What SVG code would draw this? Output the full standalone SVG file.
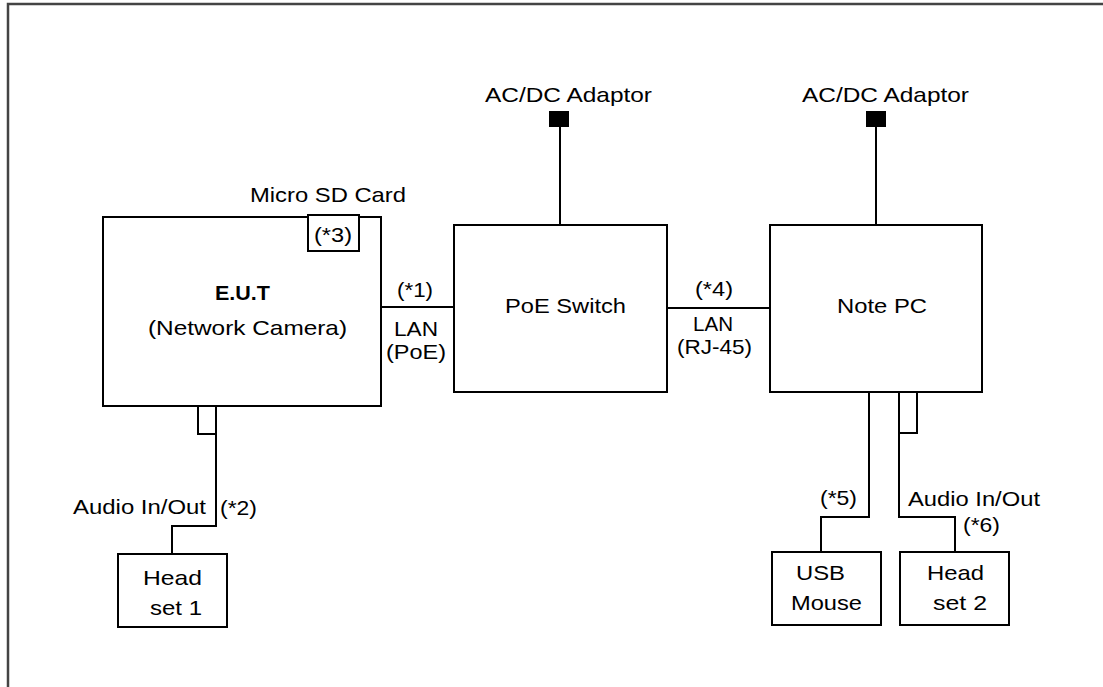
<svg xmlns="http://www.w3.org/2000/svg" width="1103" height="687" viewBox="0 0 1103 687">
<style>
.bx{fill:#fff;stroke:#000;stroke-width:2}
.ln{fill:none;stroke:#000;stroke-width:2}
.t{font-family:"Liberation Sans",Arial,sans-serif;font-size:21px;fill:#000}
.b{font-weight:bold}
</style>
<rect width="1103" height="687" fill="#fff"/>
<path d="M8,687 V4 H1103" fill="none" stroke="#444" stroke-width="2.5"/>
<g id="connectors">
<path class="ln" d="M381,307 H454"/>
<path class="ln" d="M667,308 H770"/>
<path class="ln" d="M560,127 V225"/>
<path class="ln" d="M876,127 V225"/>
<path class="ln" d="M216,434 V526 H172 V554"/>
<path class="ln" d="M869,392 V517 H821 V552"/>
<path class="ln" d="M899,433 V517 H955 V552"/>
</g>
<g id="adaptor1">
<rect x="549" y="111" width="20" height="16" fill="#000"/>
<text class="t" x="485" y="102" textLength="167" lengthAdjust="spacingAndGlyphs">AC/DC  Adaptor</text>
</g>
<g id="adaptor2">
<rect x="866" y="111" width="20" height="16" fill="#000"/>
<text class="t" x="802" y="102" textLength="167" lengthAdjust="spacingAndGlyphs">AC/DC  Adaptor</text>
</g>
<g id="eut">
<rect class="bx" x="103" y="217" width="278" height="189"/>
<rect class="bx" x="308" y="215" width="51" height="36"/>
<text class="t" x="314" y="242" textLength="38" lengthAdjust="spacingAndGlyphs">(*3)</text>
<text class="t" x="250" y="202" textLength="156" lengthAdjust="spacingAndGlyphs">Micro SD Card</text>
<text class="t b" x="215" y="300" textLength="55" lengthAdjust="spacingAndGlyphs">E.U.T</text>
<text class="t" x="148" y="335" textLength="199" lengthAdjust="spacingAndGlyphs">(Network Camera)</text>
<rect class="bx" x="198" y="406" width="18" height="28"/>
</g>
<g id="lan1-label">
<text class="t" x="397" y="297" textLength="36" lengthAdjust="spacingAndGlyphs">(*1)</text>
<text class="t" x="394" y="336" textLength="44" lengthAdjust="spacingAndGlyphs">LAN</text>
<text class="t" x="386" y="359" textLength="60" lengthAdjust="spacingAndGlyphs">(PoE)</text>
</g>
<g id="poe-switch">
<rect class="bx" x="454" y="225" width="213" height="167"/>
<text class="t" x="505" y="313" textLength="121" lengthAdjust="spacingAndGlyphs">PoE Switch</text>
</g>
<g id="lan2-label">
<text class="t" x="695" y="296" textLength="38" lengthAdjust="spacingAndGlyphs">(*4)</text>
<text class="t" x="693" y="331" textLength="40" lengthAdjust="spacingAndGlyphs">LAN</text>
<text class="t" x="677" y="354" textLength="75" lengthAdjust="spacingAndGlyphs">(RJ-45)</text>
</g>
<g id="note-pc">
<rect class="bx" x="770" y="225" width="212" height="167"/>
<text class="t" x="837" y="313" textLength="90" lengthAdjust="spacingAndGlyphs">Note PC</text>
<rect class="bx" x="899" y="392" width="18" height="41"/>
</g>
<g id="headset1">
<rect class="bx" x="118" y="554" width="109" height="73"/>
<text class="t" x="143" y="585" textLength="59" lengthAdjust="spacingAndGlyphs">Head</text>
<text class="t" x="150" y="615" textLength="52" lengthAdjust="spacingAndGlyphs">set 1</text>
</g>
<g id="audio1-label">
<text class="t" x="73" y="514" textLength="133" lengthAdjust="spacingAndGlyphs">Audio In/Out</text>
<text class="t" x="220" y="515" textLength="37" lengthAdjust="spacingAndGlyphs">(*2)</text>
</g>
<g id="usb-mouse">
<rect class="bx" x="772" y="552" width="109" height="73"/>
<text class="t" x="796" y="580" textLength="49" lengthAdjust="spacingAndGlyphs">USB</text>
<text class="t" x="791" y="610" textLength="71" lengthAdjust="spacingAndGlyphs">Mouse</text>
</g>
<g id="usb-label">
<text class="t" x="820" y="505" textLength="37" lengthAdjust="spacingAndGlyphs">(*5)</text>
</g>
<g id="headset2">
<rect class="bx" x="900" y="552" width="109" height="73"/>
<text class="t" x="927" y="580" textLength="57" lengthAdjust="spacingAndGlyphs">Head</text>
<text class="t" x="933" y="610" textLength="54" lengthAdjust="spacingAndGlyphs">set 2</text>
</g>
<g id="audio2-label">
<text class="t" x="908" y="506" textLength="132" lengthAdjust="spacingAndGlyphs">Audio In/Out</text>
<text class="t" x="963" y="532" textLength="37" lengthAdjust="spacingAndGlyphs">(*6)</text>
</g>
</svg>
